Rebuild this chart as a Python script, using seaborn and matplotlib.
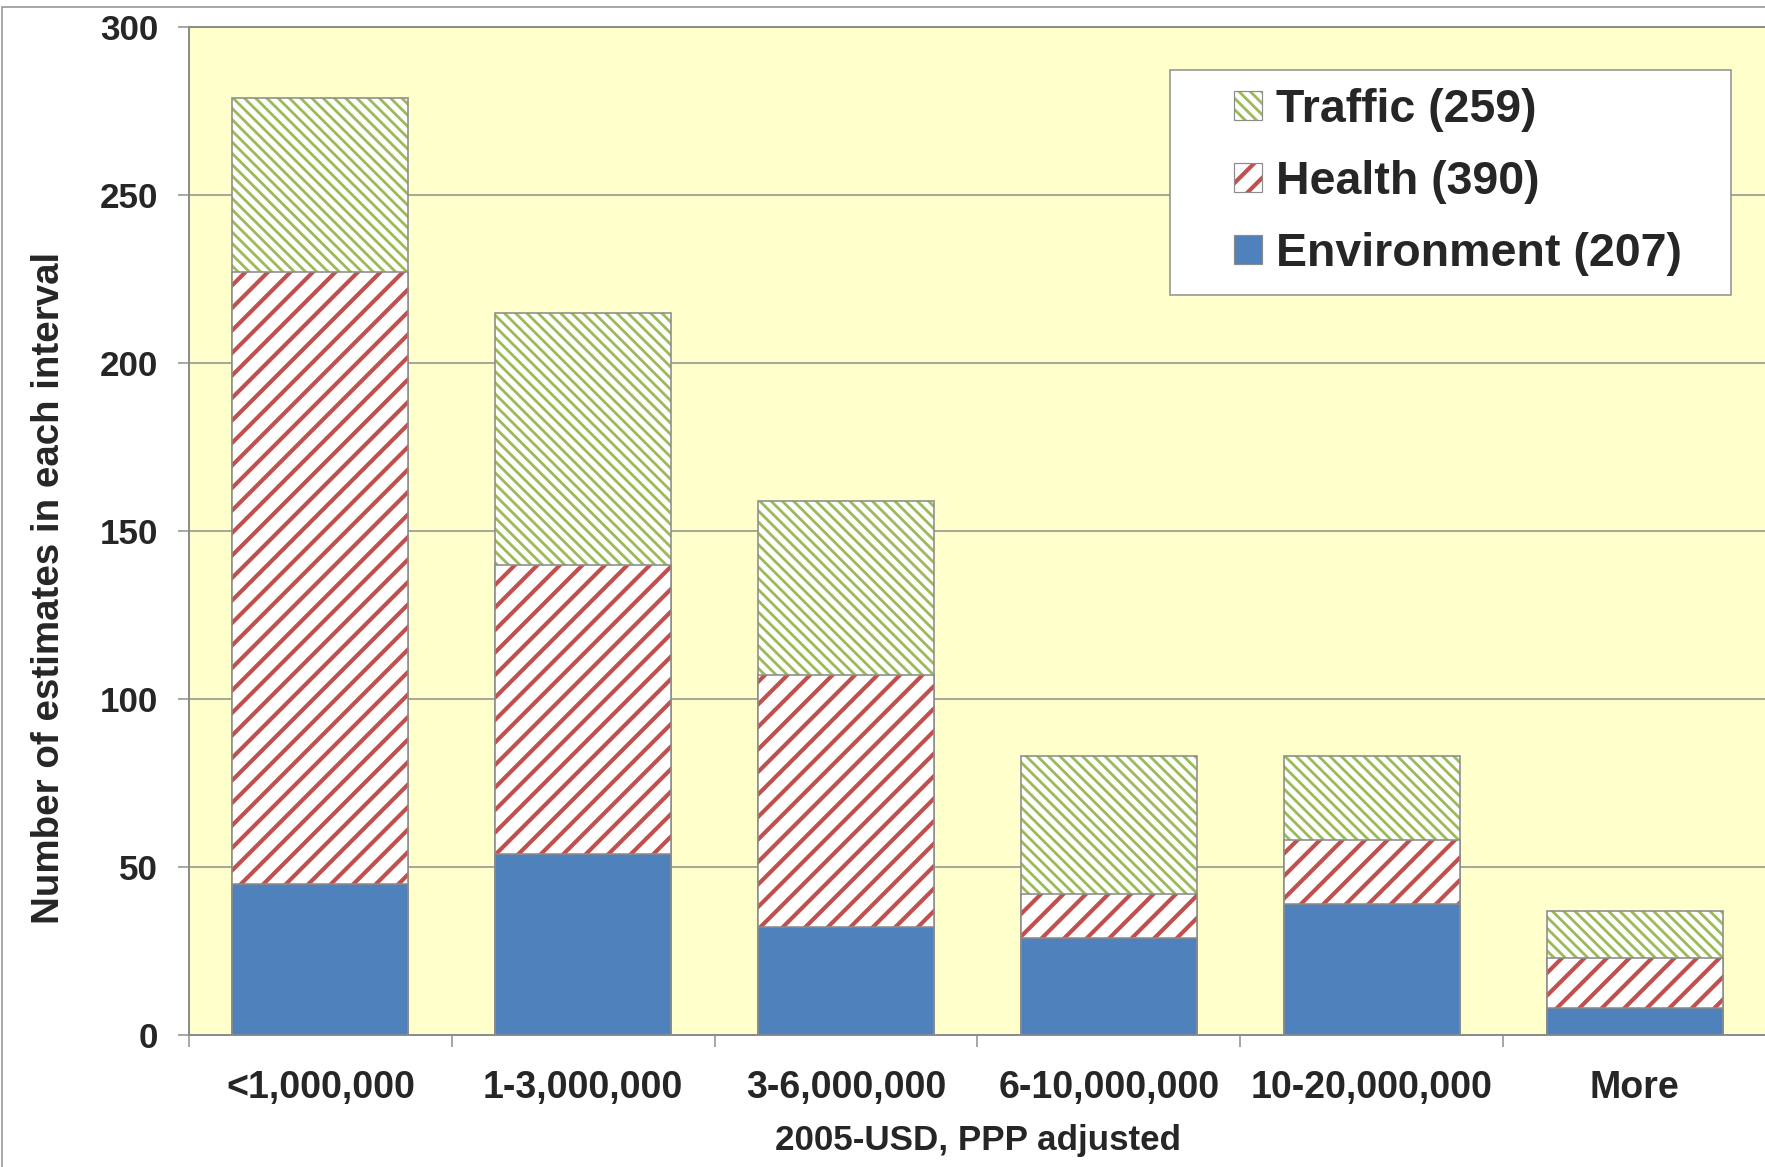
import numpy as np
import pandas as pd
import matplotlib
matplotlib.use("Agg")
import matplotlib.pyplot as plt
import seaborn as sns
from matplotlib.patches import Patch, Rectangle
from matplotlib.legend_handler import HandlerTuple
from matplotlib.transforms import IdentityTransform

# ---------------- data ----------------
categories = ["<1,000,000", "1-3,000,000", "3-6,000,000", "6-10,000,000", "10-20,000,000", "More"]
environment = [45, 54, 32, 29, 39, 8]
health = [182, 86, 75, 13, 19, 15]
traffic = [52, 75, 52, 41, 25, 14]
legend_labels = ["Traffic (259)", "Health (390)", "Environment (207)"]
y_ticks = [0, 50, 100, 150, 200, 250, 300]
x_label = "2005-USD, PPP adjusted"
y_label = "Number of estimates in each interval"

# ---------------- style ----------------
DPI = 135
W, H = 1766, 1167


def pt(px):
    return px * 72.0 / DPI


GREEN = "#9BBB59"
RED = "#C0504D"
BLUE = "#4F81BD"
EDGE = "#8C8C8C"
GRID = "#8C8C8C"
PLOT_BG = "#FFFFCC"
FONT = ["Liberation Sans", "DejaVu Sans"]

sns.set_style("white")
plt.rcParams["font.family"] = FONT
plt.rcParams["font.weight"] = "bold"
plt.rcParams["hatch.linewidth"] = 1.6


def set_hlw(p, hlw):
    """Per-patch hatch line width (works for old and new matplotlib)."""
    if hasattr(p, "set_hatch_linewidth"):
        p.set_hatch_linewidth(hlw)
    elif hasattr(p, "_hatch_linewidth"):
        p._hatch_linewidth = hlw
    orig = p.draw

    def draw(renderer, _orig=orig, _hlw=hlw):
        with plt.rc_context({"hatch.linewidth": _hlw}):
            _orig(renderer)
    p.draw = draw


env_arr = np.array(environment)
hea_arr = np.array(health)
tra_arr = np.array(traffic)
df = pd.DataFrame({
    "category": categories,
    "env_top": env_arr,
    "health_top": env_arr + hea_arr,
    "traffic_top": env_arr + hea_arr + tra_arr,
})

fig = plt.figure(figsize=(W / DPI, H / DPI), dpi=DPI)
fig.patch.set_facecolor("white")
ax = fig.add_axes([189 / W, 1 - 1035 / H, (W - 189) / W, (1035 - 27) / H])
ax.set_facecolor(PLOT_BG)

BAR_W = 0.67
HATCH_T = "\\\\\\\\"
HATCH_H = "//"
HLW_T = 1.5
HLW_H = 2.2
layers = [
    ("traffic_top", GREEN, HATCH_T, HLW_T),
    ("health_top", RED, HATCH_H, HLW_H),
    ("env_top", BLUE, None, None),
]

for i, (col, color, hatch, hlw) in enumerate(layers):
    n0 = len(ax.patches)
    sns.barplot(data=df, x="category", y=col, order=categories, color=color,
                saturation=1, width=BAR_W, errorbar=None, ax=ax)
    new = list(ax.patches[n0:])
    for p in new:
        p.set_zorder(2 + i)
        if hatch:
            p.set_facecolor("white")
            p.set_edgecolor(color)
            p.set_linewidth(0)
            p.set_hatch(hatch)
            set_hlw(p, hlw)
        else:
            p.set_facecolor(color)
            p.set_linewidth(0)
        outline = Rectangle(p.get_xy(), p.get_width(), p.get_height(), fill=False,
                            edgecolor=EDGE, linewidth=pt(1.6), zorder=2 + i + 0.5)
        ax.add_patch(outline)

# axes
ax.set_xlim(-0.5, len(categories) - 0.5)
ax.set_ylim(0, 300)
ax.set_yticks(y_ticks)
ax.set_yticklabels([str(v) for v in y_ticks])
ax.set_xticks(range(len(categories)))
ax.set_xticklabels(categories)
ax.set_xticks(np.arange(-0.5, len(categories), 1.0), minor=True)

ax.tick_params(axis="x", which="major", length=0, pad=pt(35), labelsize=pt(37.5))
ax.tick_params(axis="x", which="minor", length=pt(12), width=pt(1.5), color=GRID,
               direction="out", bottom=True)
ax.tick_params(axis="y", which="major", length=pt(11), width=pt(1.5), color=GRID,
               direction="out", pad=pt(20), labelsize=pt(35), left=True)
for lab in ax.get_xticklabels() + ax.get_yticklabels():
    lab.set_fontweight("bold")

ax.yaxis.grid(True, color=GRID, linewidth=pt(1.5))
ax.xaxis.grid(False)
ax.set_axisbelow(True)

for s in ["left", "top", "bottom"]:
    ax.spines[s].set_visible(True)
    ax.spines[s].set_color(GRID)
    ax.spines[s].set_linewidth(pt(2))
ax.spines["right"].set_visible(False)

ax.set_xlabel(x_label, fontsize=pt(35), fontweight="bold", va="center")
ax.xaxis.set_label_coords(0.5003, -0.105)
ax.set_ylabel(y_label, fontsize=pt(38.5), fontweight="bold", va="center")
ax.yaxis.set_label_coords(-0.089, 0.4435)

# legend
h_tra = (Patch(facecolor="white", edgecolor=GREEN, hatch=HATCH_T, linewidth=0),
         Patch(facecolor="none", edgecolor=EDGE, linewidth=pt(1.2)))
h_hea = (Patch(facecolor="white", edgecolor=RED, hatch=HATCH_H, linewidth=0),
         Patch(facecolor="none", edgecolor=EDGE, linewidth=pt(1.2)))
h_env = (Patch(facecolor=BLUE, edgecolor=EDGE, linewidth=pt(1.2)),)
LEG_FS_PX = 46.5
leg = ax.legend([h_tra, h_hea, h_env], legend_labels,
                handler_map={tuple: HandlerTuple(ndivide=1, pad=0)},
                loc="upper right", bbox_to_anchor=((1682 - 189) / 1577, (1035 - 88) / 1008),
                borderaxespad=0, borderpad=0,
                prop={"size": pt(LEG_FS_PX), "weight": "bold"},
                handlelength=28 / LEG_FS_PX, handleheight=28 / LEG_FS_PX,
                handletextpad=0.31, labelspacing=0.60, frameon=False)
leg.set_zorder(10)
for h, lw in zip(leg.legend_handles[:2], [HLW_T, HLW_H]):
    if h is not None:
        set_hlw(h, lw)

fig.canvas.draw()
bb = leg.get_window_extent(fig.canvas.get_renderer())
PAD_L, PAD_R, PAD_T, PAD_B = 64, 49, 18, 19
frame = Rectangle((bb.x0 - PAD_L, bb.y0 - PAD_B), bb.width + PAD_L + PAD_R,
                  bb.height + PAD_T + PAD_B, transform=IdentityTransform(),
                  facecolor="white", edgecolor=EDGE, linewidth=pt(1.5), zorder=9)
ax.add_artist(frame)

# outer chart border
fig.patches.append(Rectangle((2 / W, -0.1), 1.2, 1.1 - 7 / H, transform=fig.transFigure,
                             fill=False, edgecolor=EDGE, linewidth=pt(1.5)))

fig.savefig("out.png", dpi=DPI, facecolor="white")
